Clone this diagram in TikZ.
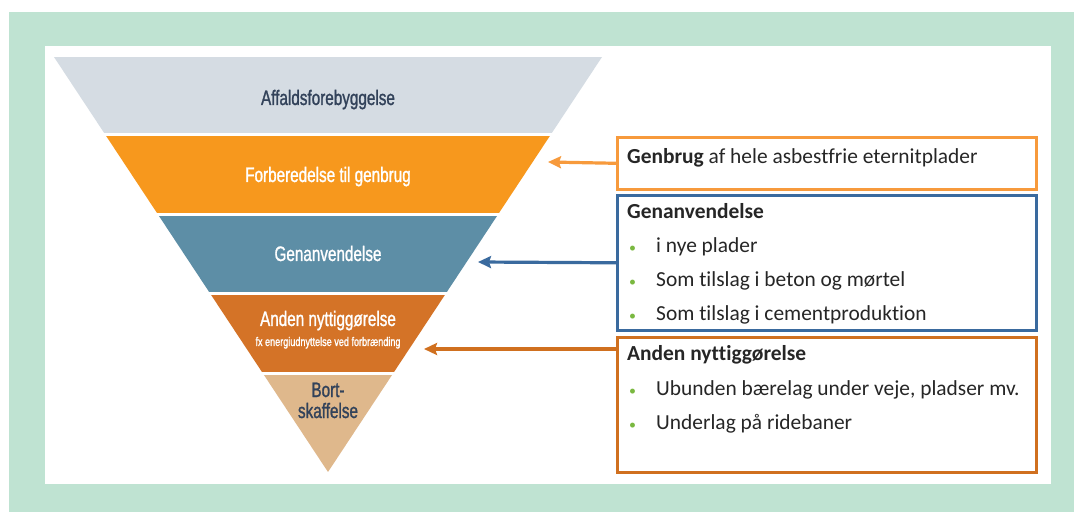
\documentclass[tikz,border=0pt]{standalone}
\usepackage{fontspec}
\setmainfont{Carlito}[Ligatures=NoCommon]
\newfontfamily\condfont[FakeStretch=0.73, FakeBold=1.2]{Liberation Sans}
\usetikzlibrary{arrows.meta,positioning,calc}
\definecolor{mint}{RGB}{191,227,210}
\definecolor{levgray}{RGB}{213,220,227}
\definecolor{levorange}{RGB}{247,152,29}
\definecolor{levteal}{RGB}{93,142,166}
\definecolor{levrust}{RGB}{212,115,39}
\definecolor{levtan}{RGB}{223,184,140}
\definecolor{labeldark}{RGB}{50,66,90}
\definecolor{boxorange}{RGB}{247,154,60}
\definecolor{boxblue}{RGB}{58,106,158}
\definecolor{boxrust}{RGB}{208,112,31}
\definecolor{bulletgreen}{RGB}{122,184,64}
\newcommand{\bul}{\makebox[29bp][l]{\hspace{2bp}\textcolor{bulletgreen}{\fontsize{14}{14}\selectfont•}}}

\begin{document}
\begin{tikzpicture}[
    x=1bp, y=-1bp,
    level/.style={font=\condfont\fontsize{21}{22}\selectfont, anchor=base, inner sep=0pt},
    box/.style={draw, line width=2.6bp, anchor=north west, inner sep=0pt},
    item/.style={font=\fontsize{21.5}{24}\selectfont, text=black!85, anchor=base west, inner sep=0pt},
    arrow/.style={-{Stealth[length=13bp, width=12bp, inset=2bp]}, line width=3.2bp}
]
\fill[white] (0,0) rectangle (1074,512);
\fill[mint] (9,12) rectangle (1074,512);
\fill[white] (45,46) rectangle (1051,484);
\useasboundingbox (0,0) rectangle (1074,512);

\begin{scope}
\clip (54,57) -- (602,57) -- (328,472) -- cycle;
\fill[levgray] (50,57) rectangle (610,133);
\fill[levorange] (50,136) rectangle (610,213);
\fill[levteal] (50,216) rectangle (610,292);
\fill[levrust] (50,295) rectangle (610,372);
\fill[levtan] (50,375) rectangle (610,472);
\end{scope}

\node[level, text=labeldark] (forebyg) at (328,105) {Affaldsforebyggelse};
\node[level, text=white] (forbered) at (328,182) {Forberedelse til genbrug};
\node[level, text=white] (genanv) at (328,261) {Genanvendelse};
\node[level, text=white] (nytte) at (328,326) {Anden nyttiggørelse};
\node[level, text=white, font=\condfont\fontsize{12.5}{13}\selectfont] (nyttefx) at (328,346) {fx energiudnyttelse ved forbrænding};
\node[level, text=labeldark] (bort) at (328,397) {Bort-};
\node[level, text=labeldark] (skaf) at (328,418) {skaffelse};

\node[box, draw=boxorange, minimum width=419bp, minimum height=52bp] (genbrugbox) at (616,136) {};
\node[box, draw=boxblue, minimum width=419bp, minimum height=135bp] (genanvbox) at (616,194) {};
\node[box, draw=boxrust, minimum width=419bp, minimum height=135bp] (nyttebox) at (616,336) {};

\node[item] (genbrugtxt) at (627,164) {\textbf{Genbrug} af hele asbestfrie eternitplader};
\node[item] (genanvhead) at (627,219) {\textbf{Genanvendelse}};
\node[item] (genanva) at (627,253) {\bul i nye plader};
\node[item] (genanvb) at (627,287) {\bul Som tilslag i beton og mørtel};
\node[item] (genanvc) at (627,321) {\bul Som tilslag i cementproduktion};
\node[item] (nyttehead) at (627,361) {\textbf{Anden nyttiggørelse}};
\node[item] (nyttea) at (627,395) {\bul Ubunden bærelag under veje, pladser mv.};
\node[item] (nytteb) at (627,429) {\bul Underlag på ridebaner};

\coordinate (tipA) at (548,162);
\coordinate (tipB) at (478,262);
\coordinate (tipC) at (424,349);

\draw[arrow, boxorange] (genbrugbox.west) -- (tipA);
\draw[arrow, boxblue] (genanvbox.west) -- (tipB);
\draw[arrow, boxrust] (nyttebox.west |- tipC) -- (tipC);
\end{tikzpicture}
\end{document}
